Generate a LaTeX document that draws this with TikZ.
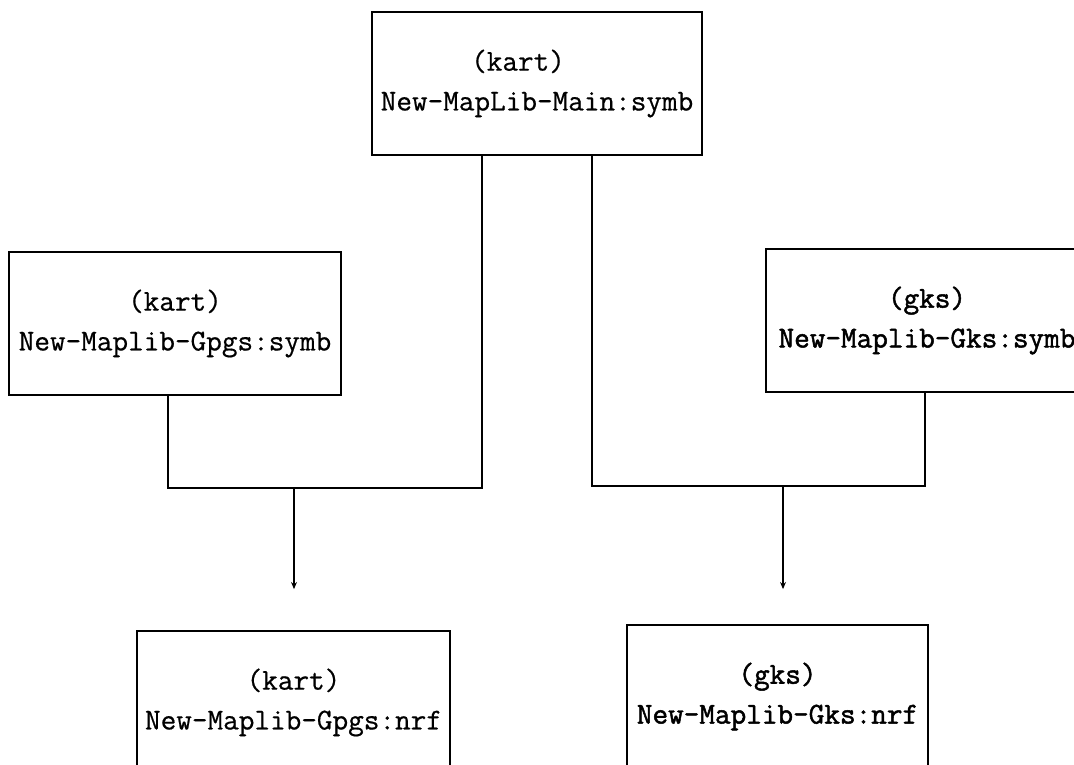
\documentclass[tikz,border=0pt]{standalone}
\usepackage{fontspec}
\setmonofont{Latin Modern Mono}[FakeBold=0.6]
\newfontfamily\gksfont{Latin Modern Mono}[FakeBold=1.6]
\usepackage{tikz}
\usetikzlibrary{calc,arrows.meta}
\tikzset{
libbox/.style={draw=black,line width=1.5pt,inner sep=0pt,align=center,minimum height=4.29cm,
font=\ttfamily\fontsize{25.9}{34}\selectfont},
gksbox/.style={libbox,font=\gksfont\fontsize{25.9}{34}\selectfont},
link/.style={draw=black,line width=1.5pt},
flowarrow/.style={-{Stealth[length=6pt,width=5pt]},line width=1.5pt,black}
}

\begin{document}
\begin{tikzpicture}[x=0.03cm,y=-0.03cm]
\useasboundingbox (0,0) rectangle (1074,765);
\node[libbox,minimum width=9.9cm] (main) at (537,83.5) {(kart)\hspace*{1.25em}\\New-MapLib-Main:symb};
\node[libbox,minimum width=9.96cm] (gpgs) at (175,323.5) {(kart)\\New-Maplib-Gpgs:symb};
\node[gksbox,minimum width=9.66cm] (gks) at (927,320.5) {(gks)\\New-Maplib-Gks:symb};
\node[libbox,minimum width=9.39cm] (gpgsnrf) at (293.5,702.5) {(kart)\\New-Maplib-Gpgs:nrf};
\node[gksbox,minimum width=9.03cm] (gksnrf) at (777.5,696.5) {(gks)\\New-Maplib-Gks:nrf};
\coordinate (jl) at (294,488);
\coordinate (jr) at (783,486);
% joins
\draw[link] ($(main.south)+(-55,0)$) |- (jl) -| ($(gpgs.south)+(-7,0)$);
\draw[link] ($(main.south)+(55,0)$) |- (jr) -| ($(gks.south)+(-2,0)$);
\draw[flowarrow,shorten >=1.23cm] (jl) -- (jl |- gpgsnrf.north);
\draw[flowarrow,shorten >=1.05cm] (jr) -- (jr |- gksnrf.north);
\end{tikzpicture}
\end{document}
